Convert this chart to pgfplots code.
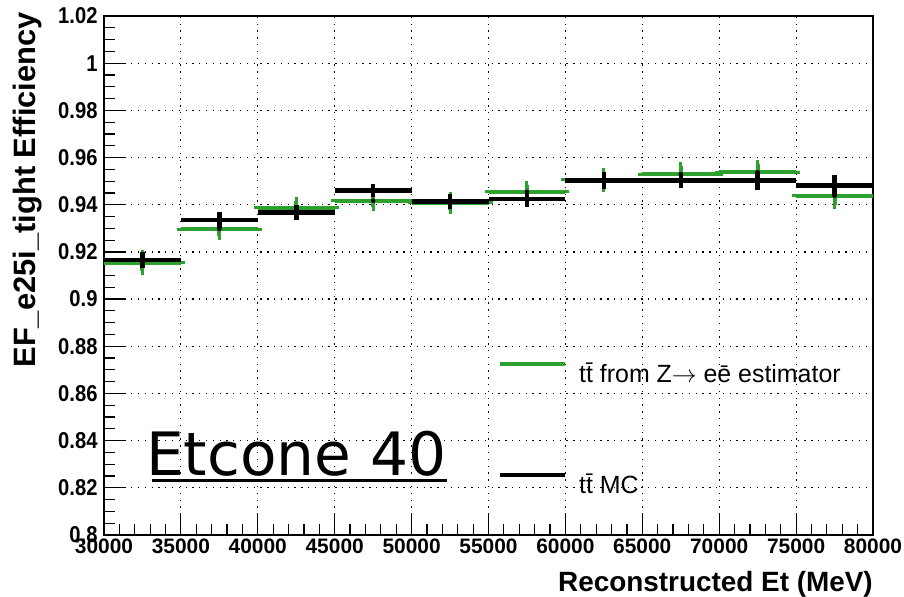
\documentclass[border=0pt]{standalone}
\usepackage{pgfplots}
\pgfplotsset{compat=1.18}
\usepackage{fontspec}
\setmainfont{Liberation Sans}
\newfontfamily\dejavu{DejaVu Sans}
\newfontfamily\tickfont[FakeStretch=0.88]{Liberation Sans}
\definecolor{rootgreen}{RGB}{45,160,45}
\begin{document}
\begin{tikzpicture}
\useasboundingbox (-104bp,-62bp) rectangle (800bp,535bp);
\begin{axis}[
 at={(0,0)}, anchor=south west,
 scale only axis, width=769bp, height=519bp,
 xmin=30000, xmax=80000, ymin=0.8, ymax=1.02,
 xtick={30000,35000,...,80000},
 ytick={0.8,0.82,0.84,0.86,0.88,0.9,0.92,0.94,0.96,0.98,1,1.02},
 minor x tick num=4, minor y tick num=3,
 tick align=inside, tick pos=left,
 major tick length=22bp, minor tick length=11bp,
 every tick/.style={black, line width=1.2bp},
 grid=major, major grid style={black, line width=1.2bp, dash pattern=on 1.3bp off 5.5bp},
 axis line style={line width=1.4bp},
 scaled x ticks=false, scaled y ticks=false,
 /pgf/number format/assume math mode=true,
 xticklabel style={font=\fontsize{21}{21}\selectfont\bfseries, /pgf/number format/.cd, fixed, 1000 sep={}},
 yticklabel style={font=\tickfont\fontsize{23}{23}\selectfont\bfseries, xshift=-3bp, /pgf/number format/.cd, fixed, precision=2},
 xlabel={Reconstructed Et (MeV)},
 ylabel={EF\_e25i\_tight Efficiency},
 xlabel style={at={(axis description cs:1,-0.108)}, anchor=base east, inner sep=0pt, font=\fontsize{28}{28}\selectfont\bfseries},
 ylabel style={at={(axis description cs:-0.0806,1.0077)}, anchor=south east, inner sep=0pt, font=\fontsize{31}{31}\selectfont\bfseries},
 legend style={at={(axis description cs:0.5124,0.336)}, anchor=north west, draw=none, fill=none, font=\fontsize{25}{25}\selectfont, row sep=86bp, inner sep=0pt,
   /tikz/every odd column/.append style={column sep=10bp}},
 legend cell align=left,
 legend image code/.code={\draw[#1] (0bp,9bp) -- (65bp,9bp);},
]
\addlegendimage{line width=4bp, rootgreen}
\addlegendentry{t\=t from Z$\rightarrow$ e\=e estimator}
\addlegendimage{line width=4bp, black}
\addlegendentry{t\=t MC}

\addplot[only marks, mark=none, forget plot,
  error bars/.cd, x dir=both, x explicit, y dir=both, y explicit,
  error bar style={line width=4bp, rootgreen},
  error mark options={line width=3bp, mark size=4bp, rootgreen}]
coordinates {
 (32500,0.9155) +- (2500,0.0037)
 (37500,0.9297) +- (2500,0.0028)
 (42500,0.9387) +- (2500,0.0029)
 (47500,0.9417) +- (2500,0.0027)
 (52500,0.9409) +- (2500,0.0030)
 (57500,0.9455) +- (2500,0.0030)
 (62500,0.9505) +- (2500,0.0032)
 (67500,0.9530) +- (2500,0.0033)
 (72500,0.9538) +- (2500,0.0033)
 (77500,0.9438) +- (2500,0.0041)
};
\addplot[only marks, mark=none, forget plot,
  error bars/.cd, x dir=both, x explicit, y dir=both, y explicit,
  error bar style={line width=4.5bp, black},
  error mark=none]
coordinates {
 (32500,0.9165) +- (2500,0.0035)
 (37500,0.9335) +- (2500,0.0033)
 (42500,0.9367) +- (2500,0.0030)
 (47500,0.9460) +- (2500,0.0028)
 (52500,0.9413) +- (2500,0.0033)
 (57500,0.9424) +- (2500,0.0033)
 (62500,0.9502) +- (2500,0.0036)
 (67500,0.9502) +- (2500,0.0032)
 (72500,0.9502) +- (2500,0.0040)
 (77500,0.9482) +- (2500,0.0043)
};
\node[anchor=base west, inner sep=0pt, font=\dejavu\fontsize{60}{60}\selectfont] (etc) at (axis cs:32730,0.8254) {Etcone 40};
\draw[line width=3bp] ([xshift=6bp,yshift=-5bp]etc.base west) -- ([yshift=-5bp]etc.base east);
\end{axis}
\end{tikzpicture}
\end{document}
